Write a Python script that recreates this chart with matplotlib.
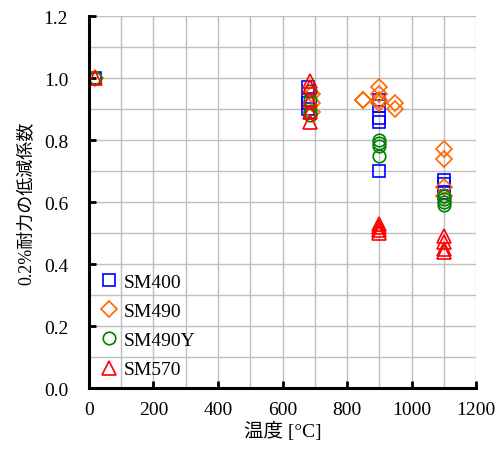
import matplotlib
matplotlib.use('Agg')
import matplotlib.pyplot as plt
from matplotlib.ticker import MultipleLocator

plt.rcParams['font.family'] = ['Liberation Serif', 'Noto Sans CJK JP']

# Data
sm400_x = [20, 680, 680, 680, 680, 900, 900, 900, 900, 900, 1100, 1100, 1100]
sm400_y = [1.00, 0.97, 0.93, 0.92, 0.90, 0.93, 0.91, 0.87, 0.86, 0.70, 0.67, 0.66, 0.63]

sm490_x = [20, 690, 690, 690, 850, 850, 900, 900, 900, 900, 950, 950, 1100, 1100, 1100, 1100]
sm490_y = [1.00, 0.95, 0.92, 0.89, 0.93, 0.93, 0.97, 0.95, 0.93, 0.92, 0.92, 0.90, 0.77, 0.74, 0.65, 0.62]

sm490y_x = [20, 685, 685, 685, 685, 900, 900, 900, 900, 1100, 1100, 1100, 1100]
sm490y_y = [1.00, 0.96, 0.93, 0.89, 0.88, 0.80, 0.79, 0.78, 0.75, 0.62, 0.61, 0.60, 0.59]

sm570_x = [20, 685, 685, 685, 685, 685, 900, 900, 900, 900, 1100, 1100, 1100, 1100]
sm570_y = [1.00, 0.99, 0.97, 0.93, 0.89, 0.86, 0.53, 0.52, 0.51, 0.50, 0.49, 0.47, 0.45, 0.44]

fig = plt.figure(figsize=(4.97, 4.52), dpi=100)
ax = fig.add_axes([0.179, 0.139, 0.779, 0.823])

ax.plot(sm400_x, sm400_y, 's', ms=8.5, mfc='none', mec='#0000ff', mew=1.2, ls='none', label='SM400')
ax.plot(sm490_x, sm490_y, 'D', ms=8, mfc='none', mec='#ff6600', mew=1.2, ls='none', label='SM490')
ax.plot(sm490y_x, sm490y_y, 'o', ms=9, mfc='none', mec='#008000', mew=1.2, ls='none', label='SM490Y')
ax.plot(sm570_x, sm570_y, '^', ms=10, mfc='none', mec='#ff0000', mew=1.2, ls='none', label='SM570')

ax.set_xlim(0, 1200)
ax.set_ylim(0, 1.2)
ax.xaxis.set_major_locator(MultipleLocator(200))
ax.xaxis.set_minor_locator(MultipleLocator(100))
ax.yaxis.set_major_locator(MultipleLocator(0.2))
ax.yaxis.set_minor_locator(MultipleLocator(0.1))
ax.yaxis.set_major_formatter(plt.FuncFormatter(lambda v, p: f'{v:.1f}'))

ax.grid(True, which='both', color='#bfbfbf', lw=1.0)
ax.set_axisbelow(True)
for s in ['top', 'right']:
    ax.spines[s].set_visible(False)
for s in ['left', 'bottom']:
    ax.spines[s].set_linewidth(2.2)
    ax.spines[s].set_color('black')

ax.tick_params(which='major', direction='in', length=5, width=2, labelsize=14)
ax.tick_params(axis='y', pad=15)
ax.tick_params(axis='x', pad=9)
ax.tick_params(which='minor', length=0)

ax.set_xlabel('温度 [°C]', fontsize=14, labelpad=2)
ax.set_ylabel('0.2%耐力の低減係数', fontsize=13, labelpad=6)

ax.legend(loc='lower left', bbox_to_anchor=(0.01, 0.0), frameon=False, fontsize=14,
          handlelength=0.7, handletextpad=0.4, labelspacing=0.6, borderaxespad=0.3,
          borderpad=0.2)

fig.savefig('out.png', dpi=100)
